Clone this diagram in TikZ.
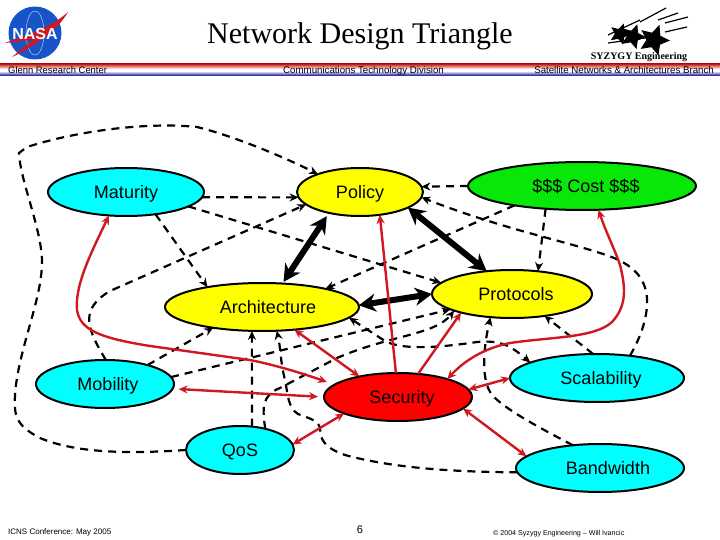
\documentclass[tikz,border=0pt]{standalone}
\usepackage{tikz}
\usepackage{xcolor}
\usepackage{fontspec}
\setmainfont{Liberation Sans}
\newfontfamily\titlefont{Liberation Serif}
\usetikzlibrary{arrows.meta,shapes.geometric}
\definecolor{linkred}{RGB}{208,24,32}
\definecolor{nasablue}{RGB}{22,84,200}
\definecolor{costgreen}{RGB}{8,232,8}
\definecolor{skyfill}{RGB}{0,255,255}
\definecolor{sunfill}{RGB}{255,255,0}
\definecolor{hotfill}{RGB}{255,0,0}

\begin{document}
\begin{tikzpicture}[x=1pt,y=-1pt,node distance=100pt,
blob/.style={draw, ellipse, line width=2pt, inner sep=0pt, outer sep=0pt, minimum height=48pt, text height=14pt, text depth=1pt, font=\fontsize{18}{20}\selectfont},
caption/.style={inner sep=0pt, text height=8pt, text depth=0pt, font=\fontsize{9.7}{12}\selectfont},
dashlink/.style={-{Stealth[length=9pt,width=8pt]}, line width=2.2pt, dash pattern=on 8pt off 6pt},
heavylink/.style={{Stealth[length=17pt,width=18pt]}-{Stealth[length=17pt,width=18pt]}, line width=6pt, black},
redlink/.style={{Stealth[length=9pt,width=8pt]}-{Stealth[length=9pt,width=8pt]}, line width=2.4pt, linkred},
logostar/.style={star, star points=5, star point ratio=2.1, fill=black, inner sep=0pt}]

\useasboundingbox (0,0) rectangle (720,540);

\shade[top color=red!75!black!90, bottom color=white] (0,64) rectangle (720,69);
\shade[top color=white, bottom color=blue!60!black] (0,71) rectangle (720,76);

\fill[nasablue] (35,33) circle (26.5pt);
\draw[white, line width=0.3pt] (35,33) ellipse (9pt and 22pt);
\fill[linkred] (5,43) .. controls (30,34) and (50,28) .. (68,12) .. controls (58,30) and (35,46) .. (12,57) .. controls (25,46) and (30,42) .. (36,39) .. controls (25,41) and (15,42) .. (5,43) -- cycle;
\node (nasa) [inner sep=0pt, white, font=\bfseries\fontsize{16}{18}\selectfont] at (35,33.5) {NASA};

\draw[line width=1.2pt] (640,22) -- (666,8);
\draw[line width=1.2pt] (658,20) -- (678,13);
\draw[line width=1.2pt] (665,23) -- (688,17);
\draw[line width=1.2pt] (665,32) -- (687,27);
\draw[line width=1.2pt] (608,35) -- (640,20);
\draw[line width=1.2pt] (608,43) -- (660,36);
\node (star3) [logostar, minimum size=22pt, rotate=-20] at (620,34) {};
\node (star2) [logostar, minimum size=26pt, rotate=-20] [right of=star3, xshift=-87pt, yshift=2pt] {};
\node (star1) [logostar, minimum size=32pt, rotate=-20] [right of=star2, xshift=-79pt, yshift=4pt] {};

\node (title) [inner sep=0pt, font=\titlefont\fontsize{30}{34}\selectfont] at (360,36) {Network Design Triangle};
\node (syzygy) [inner sep=0pt, font=\titlefont\bfseries\fontsize{10}{11}\selectfont] at (639,57) {SYZYGY Engineering};
\node (glenn) [caption, anchor=west, font=\fontsize{9.4}{12}\selectfont] at (8,70) {Glenn Research Center};
\node (comm) [caption, anchor=west] at (283,70) {Communications Technology Division};
\node (branch) [caption, anchor=east] at (714,70) {Satellite Networks \& Architectures Branch};
\node (icns) [caption, anchor=west, font=\fontsize{8}{10}\selectfont] at (8,530) {ICNS Conference: May 2005};
\node (pagenum) [caption, font=\fontsize{11}{13}\selectfont] at (360,529) {6};
\node (copyright) [caption, anchor=west, font=\fontsize{7.1}{9}\selectfont] at (493,531) {© 2004 Syzygy Engineering -- Will Ivancic};

\node (maturity) [blob, fill=skyfill, minimum width=156pt] at (126,192) {Maturity};
\node (policy) [blob, fill=sunfill, minimum width=126pt] [right of=maturity, xshift=134pt] {Policy};
\node (cost) [blob, fill=costgreen, minimum width=228pt] [right of=policy, xshift=122pt, yshift=6pt] {\hspace*{8pt}\$\$\$ Cost \$\$\$};
\node (arch) [blob, fill=sunfill, minimum width=194pt] [below of=maturity, xshift=136pt, yshift=-15pt] {\hspace*{12pt}Architecture};
\node (protocols) [blob, fill=sunfill, minimum width=160pt] [right of=arch, xshift=150pt, yshift=13pt] {\hspace*{8pt}Protocols};
\node (mobility) [blob, fill=skyfill, minimum width=138pt] [below of=arch, xshift=-157pt, yshift=23pt] {\hspace*{6pt}Mobility};
\node (security) [blob, fill=hotfill, minimum width=148pt] [below of=arch, xshift=136pt, yshift=10pt] {\hspace*{8pt}Security};
\node (scalability) [blob, fill=skyfill, minimum width=174pt] [below of=protocols, xshift=85pt, yshift=16pt] {\hspace*{8pt}Scalability};
\node (qos) [blob, fill=skyfill, minimum width=108pt] [below of=arch, xshift=-22pt, yshift=-43pt] {QoS};
\node (bandwidth) [blob, fill=skyfill, minimum width=168pt] [below of=scalability, xshift=3pt, yshift=10pt] {\hspace*{16pt}Bandwidth};

\draw[dashlink] (maturity.-4) -- (policy.185);
\draw[dashlink] (maturity.-13) -- (protocols.171);
\draw[dashlink] (maturity.-37) -- (arch.160);
\draw[dashlink] (mobility.88) .. controls (88,330) and (78,310) .. (110,291) -- (policy.193);
\draw[dashlink] (mobility.24) -- (arch.203);
\draw[dashlink] (mobility.6) -- (protocols.194);
\draw[dashlink] (qos.63) -- (arch.247);
\draw[dashlink] (qos.40) .. controls (262,408) and (262,395) .. (280,388) -- (337,358) .. controls (390,335) and (435,335) .. (protocols.196);
\draw[dashlink] (qos.west) .. controls (140,453) and (80,455) .. (40,438) .. controls (15,425) and (14,415) .. (15,395) .. controls (18,350) and (42,300) .. (42,262) .. controls (42,230) and (20,180) .. (19,153) -- (27,147) .. controls (80,130) and (150,122) .. (197,127) .. controls (230,135) and (280,155) .. (policy.157);
\draw[dashlink] (bandwidth.183) .. controls (470,472) and (400,470) .. (345,455) .. controls (325,448) and (320,440) .. (320,428) .. controls (318,420) and (308,418) .. (298,414) .. controls (288,408) and (288,395) .. (285,380) .. controls (280,360) and (281,350) .. (arch.-58);
\draw[dashlink] (bandwidth.140) .. controls (540,428) and (510,412) .. (495,398) .. controls (480,385) and (483,350) .. (protocols.227);
\draw[dashlink] (scalability.99) -- (protocols.-34);
\draw[dashlink] (scalability.34) .. controls (642,335) and (648,315) .. (647,298) .. controls (645,275) and (630,262) .. (600,253) .. controls (560,240) and (500,228) .. (policy.-5);
\draw[dashlink, {Stealth[length=9pt,width=8pt]}-{Stealth[length=9pt,width=8pt]}] (arch.-7) -- (385,341) .. controls (400,349) and (430,349) .. (477,342) .. controls (500,340) and (510,345) .. (scalability.167);
\draw[dashlink] (cost.196) -- (arch.16);
\draw[dashlink] (cost.212) -- (protocols.41);
\draw[dashlink] (cost.west) -- (policy.5);

\draw[heavylink, shorten >=2pt, shorten <=4pt] (policy.214) -- (arch.49);
\draw[heavylink] (policy.-18) -- (protocols.138);
\draw[heavylink] (arch.1) -- (protocols.west);

\draw[redlink, shorten >=8pt] (maturity.234) .. controls (90,255) and (75,285) .. (77,310) .. controls (80,330) and (100,338) .. (150,346) -- (250,360) .. controls (280,366) and (310,376) .. (security.169);
\draw[redlink, shorten >=6pt, shorten <=6pt] (mobility.-4) -- (security.west);
\draw[redlink] (qos.6) -- (security.197);
\draw[redlink] (arch.-35) -- (security.152);
\draw[redlink, -{Stealth[length=9pt,width=8pt]}] (security.95) -- (policy.-49);
\draw[redlink, -{Stealth[length=9pt,width=8pt]}] (security.49) -- (protocols.200);
\draw[redlink] (security.20) .. controls (465,360) and (485,348) .. (510,343) .. controls (550,337) and (595,338) .. (612,322) .. controls (628,305) and (625,285) .. (620,265) .. controls (615,250) and (605,230) .. (cost.-55);
\draw[redlink] (security.6) -- (scalability.west);
\draw[redlink] (security.-10) -- (bandwidth.171);

\end{tikzpicture}
\end{document}
